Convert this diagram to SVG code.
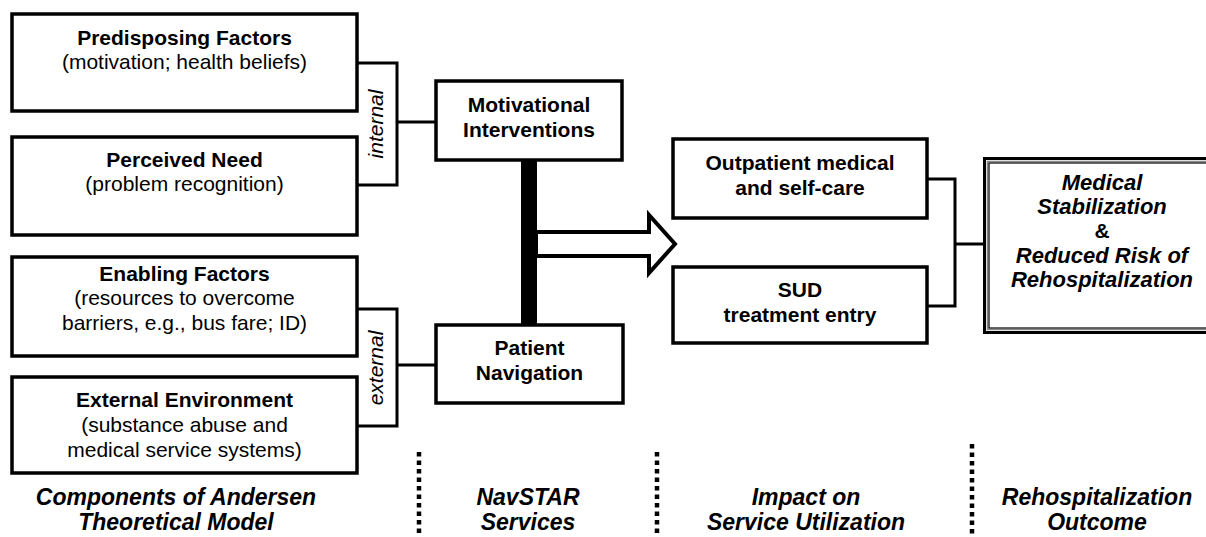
<svg xmlns="http://www.w3.org/2000/svg" width="1206" height="537" viewBox="0 0 1206 537">
<style>
text{font-family:"Liberation Sans",Arial,sans-serif;fill:#000;text-anchor:middle}
.b{font-weight:bold;font-size:21px}
.r{font-size:21px}
.bi{font-weight:bold;font-style:italic;font-size:22px}
.lab{font-weight:bold;font-style:italic;font-size:23px}
.it{font-style:italic;font-size:21px}
.box{fill:#fff;stroke:#000;stroke-width:3.5}
.ln{fill:none;stroke:#000;stroke-width:3}
.dot{fill:none;stroke:#000;stroke-width:4.5;stroke-dasharray:4.5 4}
</style>
<rect width="1206" height="537" fill="#fff"/>
<g id="connectors">
<polyline class="ln" points="357,63 397,63 397,185 357,185"/>
<line class="ln" x1="397" y1="122" x2="436" y2="122"/>
<polyline class="ln" points="357,309 397,309 397,426 357,426"/>
<line class="ln" x1="397" y1="365" x2="436" y2="365"/>
<polygon points="536,232 649,232 649,215 675,244 649,273 649,256 536,256" fill="#fff" stroke="#000" stroke-width="4" stroke-linejoin="miter"/>
<rect x="521" y="160" width="16" height="165" fill="#000"/>
<polyline class="ln" points="927,179 955,179 955,306 927,306"/>
<line class="ln" x1="955" y1="244" x2="983" y2="244"/>
<line class="dot" x1="419" y1="452" x2="419" y2="540"/>
<line class="dot" x1="657" y1="452" x2="657" y2="540"/>
<line class="dot" x1="972" y1="444" x2="972" y2="540"/>
</g>
<g id="predisposing">
<rect class="box" x="12" y="14" width="345" height="97"/>
<text class="b" x="184.5" y="45">Predisposing Factors</text>
<text class="r" x="184.5" y="69">(motivation; health beliefs)</text>
</g>
<g id="perceived">
<rect class="box" x="12" y="137" width="345" height="98"/>
<text class="b" x="184.5" y="167">Perceived Need</text>
<text class="r" x="184.5" y="191">(problem recognition)</text>
</g>
<g id="enabling">
<rect class="box" x="12" y="257" width="345" height="99"/>
<text class="b" x="184.5" y="281">Enabling Factors</text>
<text class="r" x="184.5" y="305">(resources to overcome</text>
<text class="r" x="184.5" y="330">barriers, e.g., bus fare; ID)</text>
</g>
<g id="external">
<rect class="box" x="12" y="377" width="345" height="96"/>
<text class="b" x="184.5" y="407">External Environment</text>
<text class="r" x="184.5" y="432">(substance abuse and</text>
<text class="r" x="184.5" y="457">medical service systems)</text>
</g>
<g id="label-internal">
<text class="it" transform="translate(383,124) rotate(-90)">internal</text>
</g>
<g id="label-external">
<text class="it" transform="translate(383,368) rotate(-90)">external</text>
</g>
<g id="motivational">
<rect class="box" x="436" y="81" width="186" height="79"/>
<text class="b" x="529" y="112">Motivational</text>
<text class="b" x="529" y="137">Interventions</text>
</g>
<g id="navigation">
<rect class="box" x="436" y="325" width="187" height="78"/>
<text class="b" x="529.5" y="355">Patient</text>
<text class="b" x="529.5" y="380">Navigation</text>
</g>
<g id="outpatient">
<rect class="box" x="673" y="139" width="254" height="79"/>
<text class="b" x="800" y="170">Outpatient medical</text>
<text class="b" x="800" y="195">and self-care</text>
</g>
<g id="sud">
<rect class="box" x="673" y="267" width="254" height="76"/>
<text class="b" x="800" y="297">SUD</text>
<text class="b" x="800" y="322">treatment entry</text>
</g>
<g id="outcome">
<rect x="984.5" y="158.5" width="240" height="174" fill="#fff" stroke="#000" stroke-width="3"/>
<rect x="987.5" y="161.5" width="234" height="168" fill="none" stroke="#888" stroke-width="1.5"/>
<rect x="989" y="163" width="231" height="165" fill="none" stroke="#000" stroke-width="1.2"/>
<text class="bi" x="1102" y="190">Medical</text>
<text class="bi" x="1102" y="214">Stabilization</text>
<text class="b" x="1102" y="238">&amp;</text>
<text class="bi" x="1102" y="263">Reduced Risk of</text>
<text class="bi" x="1102" y="287">Rehospitalization</text>
</g>
<g id="column-labels">
<text class="lab" x="176" y="505">Components of Andersen</text>
<text class="lab" x="176" y="530">Theoretical Model</text>
<text class="lab" x="528" y="505">NavSTAR</text>
<text class="lab" x="528" y="530">Services</text>
<text class="lab" x="806" y="505">Impact on</text>
<text class="lab" x="806" y="530">Service Utilization</text>
<text class="lab" x="1097" y="505">Rehospitalization</text>
<text class="lab" x="1097" y="530">Outcome</text>
</g>
</svg>
